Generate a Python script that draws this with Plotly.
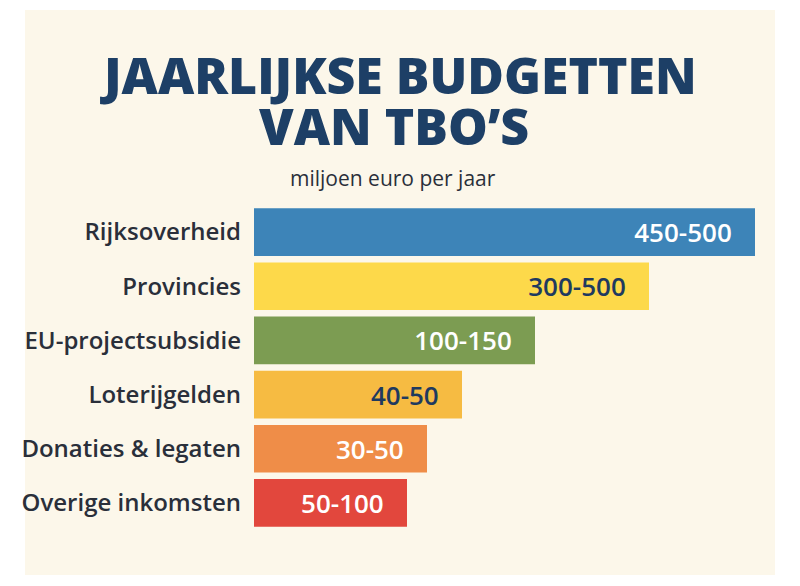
import plotly.graph_objects as go

categories = ["Rijksoverheid", "Provincies", "EU-projectsubsidie", "Loterijgelden", "Donaties & legaten", "Overige inkomsten"]
range_labels = ["450-500", "300-500", "100-150", "40-50", "30-50", "50-100"]
bar_lengths = [501, 395, 281, 208, 173, 153]  # estimated visual bar lengths
colors = ["#3d84b8", "#fdd94a", "#7c9c52", "#f6bb42", "#ef8d48", "#e2473d"]
text_colors = ["white", "#1f3a5f", "white", "#1f3a5f", "white", "white"]

H = 586
def py(pix):  # container y from picture pixel (accounting 8px page offset)
    return 1 - (pix - 8) / H

fig = go.Figure(go.Bar(
    x=bar_lengths, y=categories, orientation="h",
    marker=dict(color=colors, line=dict(width=0)),
    text=[t + "   " for t in range_labels], textposition="inside", insidetextanchor="end",
    textfont=dict(size=26, color=text_colors, family="Open Sans", weight=600),
    width=0.88, hoverinfo="skip",
))
ann_common = dict(xref="paper", yref="paper", showarrow=False, xanchor="center", yanchor="middle")
fig.update_layout(
    width=800, height=586,
    paper_bgcolor="white", plot_bgcolor="rgba(0,0,0,0)",
    margin=dict(l=246, r=53, t=197, b=64),
    showlegend=False,
    xaxis=dict(range=[0, 501], visible=False),
    yaxis=dict(autorange="reversed", showgrid=False, ticks="", ticklabelstandoff=12,
               tickfont=dict(size=24, color="#2a2f3a", family="Open Sans", weight=600)),
)
ph = 586 - 197 - 64
def pyp(pix):  # paper y from picture pixel
    return (586 - 64 - (pix - 8)) / ph
def pxp(pix):
    return (pix - 8 - 246) / 501
fig.update_layout(
    annotations=[
        dict(text="JAARLIJKSE BUDGETTEN", x=pxp(398), y=pyp(75),
             font=dict(size=50, color="#1d3f66", family="Open Sans", weight=800), **ann_common),
        dict(text="VAN TBO’S", x=pxp(394), y=pyp(126),
             font=dict(size=50, color="#1d3f66", family="Open Sans", weight=800), **ann_common),
        dict(text="miljoen euro per jaar", x=pxp(393), y=pyp(178),
             font=dict(size=21, color="#2a2f3a", family="Open Sans"), **ann_common),
    ],
    shapes=[dict(type="rect", xref="paper", yref="paper", layer="below",
                 x0=pxp(25), x1=pxp(775), y0=pyp(575), y1=pyp(10),
                 fillcolor="#fcf7ea", line=dict(width=0))],
)
fig.write_html("out.html")
